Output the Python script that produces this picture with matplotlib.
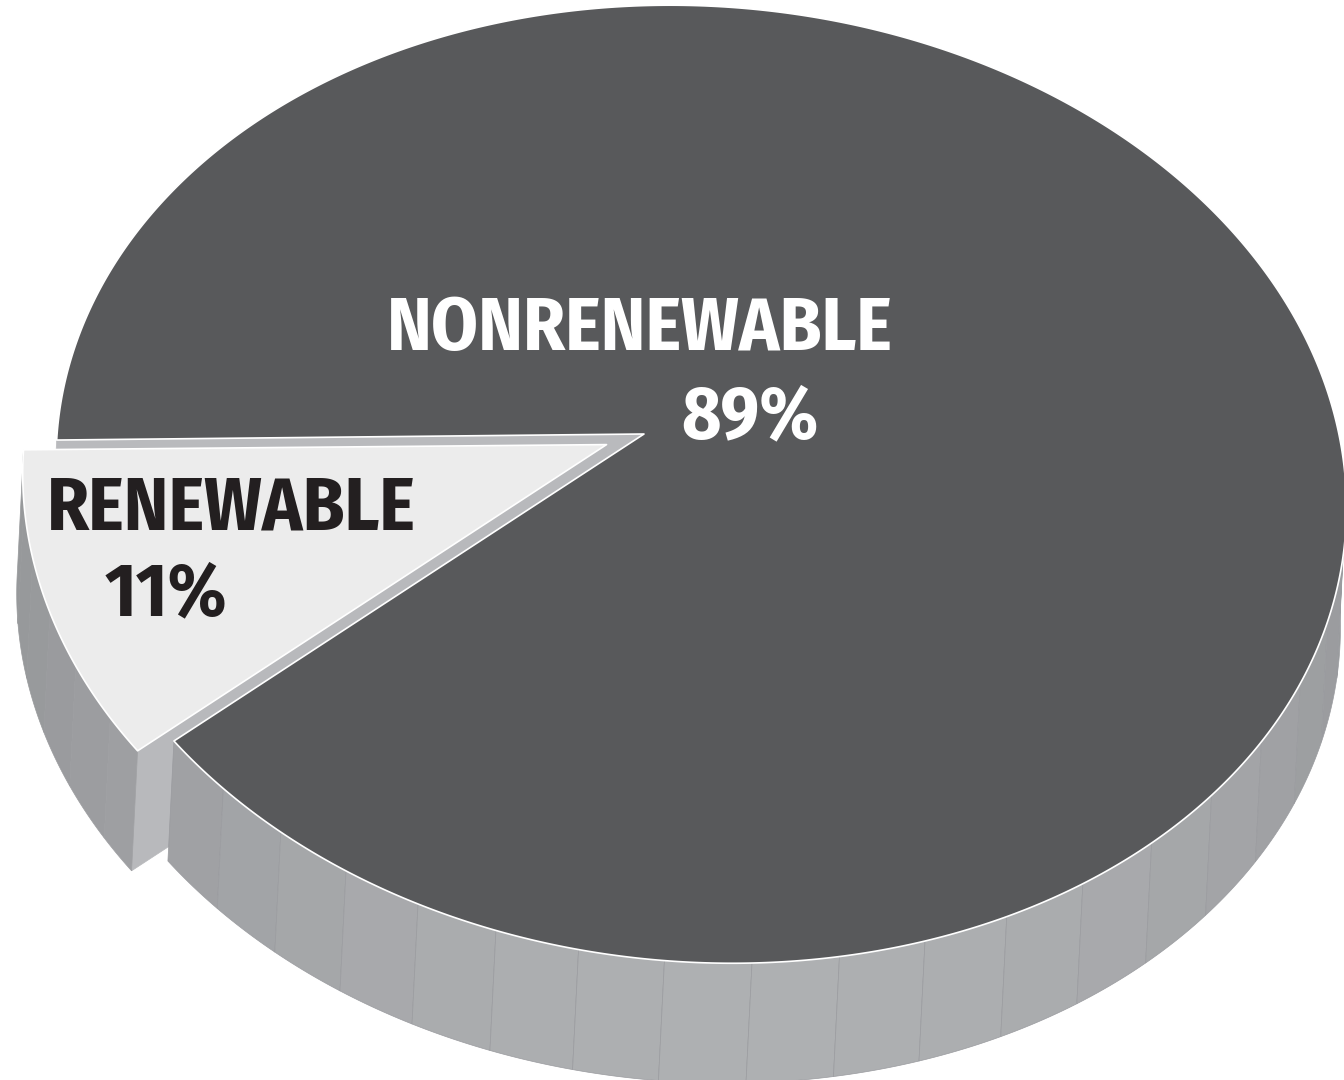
#!/usr/bin/env python3
"""3-D pie: renewable vs nonrenewable share -> out.png."""

import numpy as np
import matplotlib

matplotlib.use("Agg")
import matplotlib.pyplot as plt  # noqa: E402
from matplotlib.patches import Polygon  # noqa: E402

# data
labels = ["RENEWABLE", "NONRENEWABLE"]
shares = [11, 89]
explode = [0.064, 0.0]

# style
TOP_COLORS = ["#ececec", "#58595b"]
CUT_COLORS = ["#b8b9bc", "#b9babd"]
TEXT_COLORS = ["#231f20", "white"]
START = 180.0  # deg, renewable starts at the left and runs counter-clockwise
FONT = ["Fira Sans Condensed", "DejaVu Sans"]

# camera: plane homography (unit disc -> pixels, y down), fitted by hand to the picture
H = np.array([[582.6563, 34.14249, 644.0],
              [-42.45006, -426.1864, 434.0],
              [-0.08275647, 0.1056344, 1.0]])
OFF = np.array([-6.0, 120.0])  # pixel offset of the bottom face (slice thickness)


def img(x, y):
    x, y = np.atleast_1d(x), np.atleast_1d(y)
    w = np.column_stack([x, y, np.ones_like(x)]) @ H.T
    return w[:, :2] / w[:, 2:]


def area(p):
    a, b = p[:, 0], p[:, 1]
    return 0.5 * np.sum(a * np.roll(b, -1) - np.roll(a, -1) * b)


def side_shade(a):
    n = np.array([np.cos(a), np.sin(a)])
    light = np.array([0.1, -1.0]) / np.hypot(0.1, 1.0)
    d = max(float(n @ light), 0.0)
    g = 0.605 + 0.09 * d ** 2
    return (g - 0.012, g - 0.006, g + 0.004)


def slice_parts(a0, a1, ex):
    mid = 0.5 * (a0 + a1)
    ox, oy = ex * np.cos(mid), ex * np.sin(mid)
    t = np.linspace(a0, a1, max(int(np.degrees(a1 - a0) * 3), 8))
    top = np.vstack([img(ox, oy), img(ox + np.cos(t), oy + np.sin(t))])
    # outer wall as facets, keep the ones facing us
    sides = []
    edges = np.append(np.radians(np.arange(np.degrees(a0), np.degrees(a1), 7.0)), a1)
    for b0, b1 in zip(edges[:-1], edges[1:]):
        tt = np.linspace(b0, b1, 12)
        up = img(ox + np.cos(tt), oy + np.sin(tt))
        quad = np.vstack([up, (up + OFF)[::-1]])
        if area(quad) > 0:
            sides.append((quad, side_shade(0.5 * (b0 + b1))))
    # radial cut faces
    ct = img(ox, oy)[0]
    cuts = []
    r0 = img(ox + np.cos(a0), oy + np.sin(a0))[0]
    f0 = np.array([ct, r0, r0 + OFF, ct + OFF])
    if area(f0) > 0:
        cuts.append(f0)
    r1 = img(ox + np.cos(a1), oy + np.sin(a1))[0]
    f1 = np.array([ct, ct + OFF, r1 + OFF, r1])
    if area(f1) > 0:
        cuts.append(f1)
    return top, sides, cuts


fig = plt.figure(figsize=(13.44, 10.8), dpi=100)
ax = fig.add_axes([0, 0, 1, 1])
ax.set_xlim(0, 1344)
ax.set_ylim(1080, 0)
ax.axis("off")

bounds = np.radians(START + 360.0 * np.concatenate([[0], np.cumsum(shares)]) / sum(shares))
parts = [slice_parts(bounds[i], bounds[i + 1], explode[i]) for i in range(len(shares))]

# painter order: big slice's front cut, small slice, then big slice wall and top
z_cut, z_side, z_top = [2, 1], [2, 4], [3, 5]
for i, (top, sides, cuts) in enumerate(parts):
    for c in cuts:
        ax.add_patch(Polygon(c, closed=True, fc=CUT_COLORS[i], ec=CUT_COLORS[i], lw=0.5,
                             zorder=z_cut[i]))
    for quad, col in sides:
        ec = "#9a9b9f" if i == 1 else col
        ax.add_patch(Polygon(quad, closed=True, fc=col, ec=ec, lw=0.5, zorder=z_side[i]))
    ax.add_patch(Polygon(top, closed=True, fc=TOP_COLORS[i], ec="white", lw=1.2,
                         joinstyle="round", zorder=z_top[i]))

# labels
kw = dict(fontsize=54, fontweight="bold", family=FONT, ha="center", va="baseline", zorder=6)
ax.text(231, 530, labels[0], color=TEXT_COLORS[0], **kw)
ax.text(166, 615, f"{shares[0]}%", color=TEXT_COLORS[0], **kw)
ax.text(640, 350, labels[1], color=TEXT_COLORS[1], **kw)
ax.text(750, 438, f"{shares[1]}%", color=TEXT_COLORS[1], **kw)

fig.savefig("out.png", dpi=100, facecolor="white")
